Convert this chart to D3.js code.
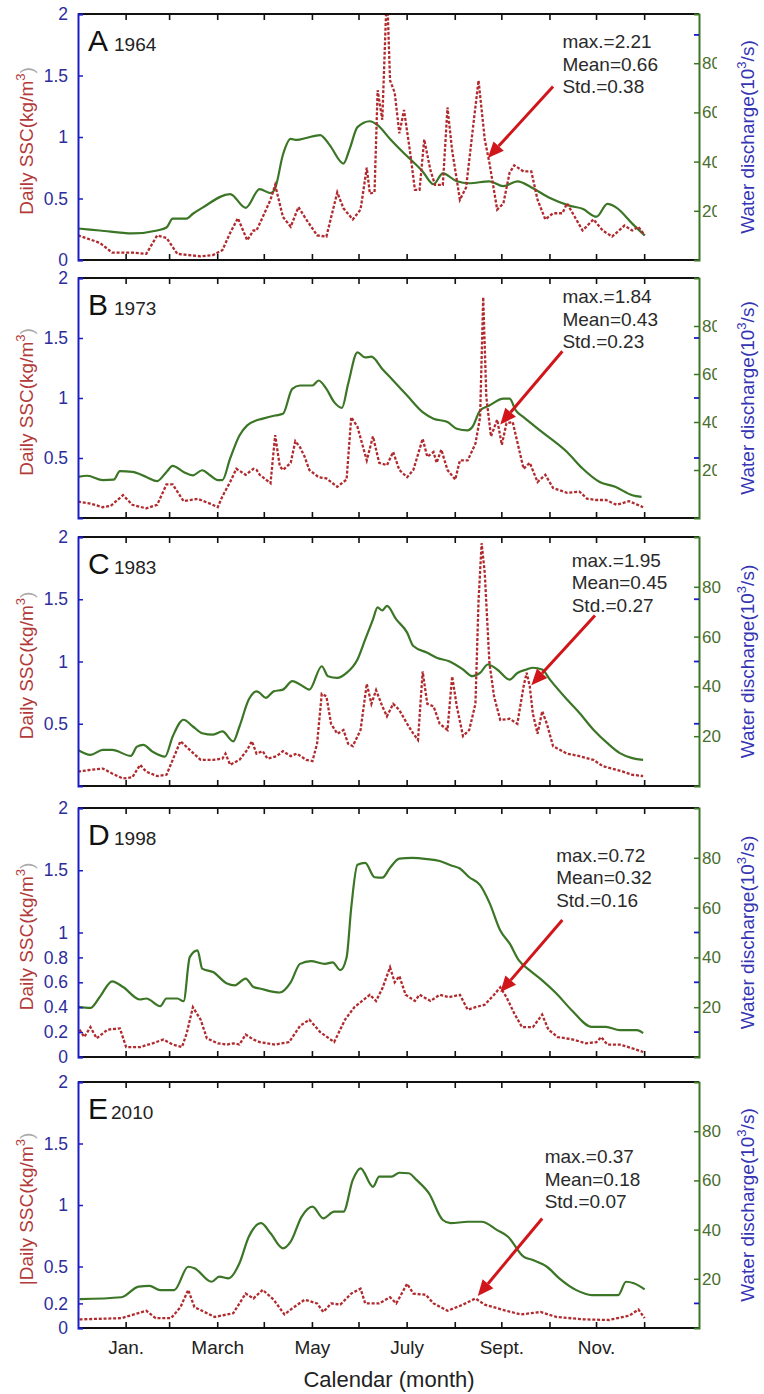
<!DOCTYPE html>
<html><head><meta charset="utf-8">
<script src="https://cdn.jsdelivr.net/npm/d3@7"></script>
<style>body{margin:0;background:#fff;} svg{display:block;font-family:"Liberation Sans",Arial,sans-serif;}</style>
</head><body><svg id="c" width="764" height="1394"></svg>
<script>
// ---------------- data ----------------
const letters = ["A","B","C","D","E"];
const years = ["1964","1973","1983","1998","2010"];
const monthTicks = [31,59,90,120,151,181,212,243,273,304,334,365];
const monthLabelDays = [31,90,151,212,273,334];
const monthLabels = ["Jan.","March","May","July","Sept.","Nov."];
const leftTicks = [[0,0.5,1,1.5,2],[0.5,1,1.5,2],[0.5,1,1.5,2],[0,0.2,0.4,0.6,0.8,1,1.5,2],[0,0.2,0.5,1,1.5,2]];
const rightTicks = [20,40,60,80];
const mirrorTicks = [[1.83],[0.5,1,1.5],[0.5,1,1.5],[0.2,0.6,1],[0.2]];
const statMax = ["2.21","1.84","1.95","0.72","0.37"];
const statMean = ["0.66","0.43","0.45","0.32","0.18"];
const statStd = ["0.38","0.23","0.27","0.16","0.07"];
// arrow [startDay, startSSC, endDay, endSSC], text anchor [day, SSC]
const arrows = [[306,1.41,264,0.83],[312,1.39,272,0.78],[333,1.37,292,0.81],[312,1.10,272,0.52],[299,0.89,257.5,0.26]];
const textPos = [[312,1.72],[312,1.79],[318,1.76],[308,1.57],[300.6,1.34]];

const qA = [[0,12.8],[14,12],[35,10.8],[51,12],[57,13.2],[61,16.8],[70,16.8],[74,18.8],[80,21.2],[98,26.8],[108,21.2],[117,28.8],[124,27.2],[127,29.2],[132,42.8],[137,49.2],[141,48.8],[147,49.6],[156,50.8],[162,46.8],[171,39.2],[175,45.2],[180,54],[188,56.4],[193,54.8],[201,49.2],[209,44],[222,36],[229,30.8],[235,35.2],[244,32],[252,31.2],[265,32],[274,30],[283,32],[293,29.2],[304,25.2],[317,22],[325,20.8],[334,17.6],[341,22.8],[347,21.2],[357,14.8],[365,10]];
const sscA = [[0,0.2],[14,0.14],[22,0.06],[35,0.06],[44,0.05],[51,0.2],[57,0.18],[64,0.05],[79,0.03],[87,0.04],[93,0.08],[98,0.22],[103,0.34],[109,0.16],[113,0.24],[115,0.24],[119,0.35],[124,0.49],[127,0.61],[132,0.35],[137,0.27],[142,0.43],[147,0.33],[154,0.2],[160,0.19],[167,0.55],[171,0.42],[177,0.33],[182,0.41],[186,0.75],[188,0.54],[191,0.55],[193,1.38],[196,1.14],[199,2.21],[201,1.46],[204,1.36],[207,1.03],[210,1.22],[214,0.87],[217,0.57],[220,0.57],[223,0.98],[227,0.73],[230,0.61],[235,0.61],[238,1.24],[241,0.89],[246,0.49],[250,0.59],[254,1.03],[258,1.46],[262,0.98],[265,0.79],[270,0.41],[274,0.46],[278,0.71],[281,0.77],[287,0.72],[292,0.72],[296,0.49],[301,0.33],[306,0.38],[312,0.38],[315,0.46],[320,0.35],[325,0.24],[332,0.33],[338,0.24],[344,0.19],[352,0.28],[357,0.24],[361,0.27],[365,0.2]];

const qB = [[0,17.1],[6,17.6],[16,15.8],[23,16],[27,19.5],[35,19.2],[44,17.1],[51,15.4],[57,19.2],[61,21.7],[68,19.2],[74,17.8],[80,19.9],[85,17.8],[90,15.8],[93,15.8],[98,24.8],[104,34.4],[109,38.6],[115,40.7],[119,41.4],[127,42.7],[132,43.4],[138,53.8],[143,55.2],[151,55.2],[155,57.3],[160,53.8],[165,48.3],[170,45.9],[174,55.9],[180,69],[185,66.9],[189,67.2],[196,62.1],[203,57.3],[212,51],[222,44.1],[229,41.4],[238,40],[244,37.2],[251,36.5],[254,37.9],[259,44.8],[265,46.9],[274,49.7],[278,49.7],[282,44.8],[287,42],[299,35.8],[315,27.5],[325,20.6],[336,15],[346,13],[357,9.5],[363,8.8]];
const sscB = [[0,0.136],[8,0.12],[16,0.09],[21,0.1],[29,0.19],[35,0.11],[44,0.08],[51,0.11],[57,0.28],[61,0.28],[68,0.14],[77,0.16],[85,0.12],[90,0.09],[93,0.18],[98,0.30],[102,0.41],[108,0.36],[113,0.41],[115,0.40],[117,0.36],[119,0.34],[124,0.29],[127,0.69],[130,0.43],[132,0.40],[137,0.46],[140,0.64],[143,0.59],[146,0.51],[149,0.40],[155,0.34],[160,0.33],[167,0.26],[173,0.32],[176,0.84],[180,0.76],[186,0.48],[190,0.68],[194,0.46],[199,0.44],[203,0.55],[207,0.40],[212,0.34],[216,0.40],[222,0.66],[225,0.51],[229,0.55],[231,0.46],[234,0.57],[238,0.40],[243,0.32],[246,0.48],[251,0.48],[256,0.62],[259,0.84],[261,1.84],[263,1.01],[266,0.68],[270,0.82],[273,0.61],[276,0.79],[280,0.80],[287,0.41],[291,0.46],[296,0.30],[301,0.36],[306,0.25],[315,0.21],[323,0.22],[328,0.16],[334,0.15],[340,0.15],[347,0.11],[355,0.14],[364,0.09]];

const qC = [[0,14.5],[8,12.5],[16,14.5],[22,14.5],[34,12.1],[38,15.8],[42,16.5],[48,13.8],[56,11.8],[61,19.9],[68,26.6],[74,23.9],[80,21.2],[87,20.6],[93,21.9],[100,17.9],[104,23.9],[110,34.7],[115,38],[117,37.4],[121,35.4],[126,38],[132,38.7],[138,42.1],[143,40.8],[149,38.7],[157,48.1],[161,44.1],[167,43.4],[173,45.4],[180,50.8],[185,58.9],[190,66.9],[193,71.7],[196,70.5],[199,72.3],[205,66.9],[212,61.6],[216,56.2],[225,53.5],[231,51.5],[239,50.1],[248,46.8],[254,44.1],[259,45.4],[264,48.8],[270,46.8],[278,42.7],[283,45.4],[289,46.8],[293,47.5],[299,46.8],[304,42.7],[315,34.7],[323,29.3],[332,22.6],[341,17.2],[349,13.2],[357,11.2],[364,10.5]];
const sscC = [[0,0.115],[8,0.13],[16,0.14],[22,0.10],[29,0.06],[35,0.07],[40,0.17],[44,0.115],[51,0.08],[57,0.09],[66,0.36],[72,0.29],[79,0.21],[87,0.21],[93,0.22],[95,0.26],[98,0.17],[104,0.21],[109,0.29],[112,0.36],[115,0.26],[119,0.28],[122,0.22],[128,0.24],[132,0.28],[137,0.24],[141,0.26],[147,0.21],[151,0.2],[154,0.34],[157,0.74],[160,0.72],[163,0.5],[167,0.42],[171,0.45],[174,0.34],[177,0.32],[182,0.45],[186,0.82],[189,0.66],[192,0.77],[196,0.64],[199,0.56],[203,0.66],[207,0.61],[212,0.5],[216,0.42],[219,0.37],[222,0.92],[225,0.66],[229,0.64],[233,0.5],[238,0.45],[241,0.88],[244,0.64],[248,0.4],[252,0.45],[256,0.66],[258,1.49],[260,1.95],[262,1.71],[265,0.99],[268,0.72],[272,0.53],[278,0.54],[283,0.5],[287,0.8],[289,0.91],[291,0.8],[293,0.58],[296,0.42],[299,0.6],[302,0.5],[306,0.32],[315,0.26],[323,0.24],[332,0.21],[338,0.16],[344,0.14],[351,0.115],[357,0.09],[364,0.08]];

const qD = [[0,20.1],[8,19.7],[14,24.1],[22,30.4],[29,28.1],[40,23.1],[44,23.5],[53,20.4],[57,23.5],[64,23.5],[68,22.4],[72,40.1],[77,42.8],[80,35.5],[87,34.1],[96,29.5],[101,28.8],[108,31.5],[113,28.1],[117,27.5],[130,25.9],[137,30],[143,37.4],[150,38.5],[159,37.4],[164,38],[169,34.9],[173,40],[176,60],[180,77.2],[185,78],[191,72.2],[196,72],[201,76],[207,79.7],[215,80],[225,79.5],[233,78.7],[240,77],[246,75.7],[252,72.2],[259,69],[265,62],[272,50.8],[278,45.6],[284,38.8],[291,34.8],[299,30.8],[308,25.6],[318,18.8],[331,12.1],[340,12.1],[349,10.8],[360,10.8],[364,9.6]];
const sscD = [[1,0.22],[4,0.16],[8,0.24],[12,0.15],[19,0.22],[27,0.23],[31,0.08],[40,0.08],[48,0.11],[55,0.14],[61,0.1],[67,0.08],[70,0.19],[74,0.40],[79,0.3],[83,0.15],[90,0.11],[96,0.1],[100,0.11],[104,0.1],[108,0.18],[113,0.14],[117,0.12],[127,0.1],[136,0.12],[143,0.25],[149,0.3],[156,0.2],[165,0.12],[172,0.3],[178,0.4],[183,0.45],[188,0.5],[192,0.45],[196,0.55],[201,0.72],[204,0.6],[207,0.65],[211,0.5],[217,0.45],[220,0.5],[227,0.45],[233,0.5],[239,0.48],[246,0.5],[251,0.38],[256,0.4],[262,0.42],[268,0.5],[272,0.56],[276,0.48],[281,0.35],[286,0.24],[293,0.24],[299,0.34],[303,0.22],[309,0.16],[319,0.14],[327,0.11],[334,0.12],[337,0.16],[341,0.1],[349,0.1],[357,0.07],[364,0.04]];

const qE = [[1,11.7],[28,12.5],[39,16.8],[46,17.1],[53,15.4],[62,15.4],[71,24.9],[75,24.3],[86,18.8],[91,20.9],[97,20.2],[104,26.3],[110,37.1],[118,42.6],[124,38.5],[132,32.4],[137,35.1],[144,45.2],[151,49.3],[158,44.6],[165,47.3],[171,47.3],[177,60.2],[182,64.9],[190,57.4],[194,61.5],[202,61.5],[207,63.1],[213,62.9],[218,60.2],[226,54.8],[235,43.9],[240,42.6],[251,43.2],[260,43.2],[270,39.8],[277,37.1],[287,29],[293,27.6],[302,24.9],[310,20.2],[321,15.4],[331,13.4],[348,13.4],[353,18.8],[358,18.2],[365,15.7]];
const sscE = [[1,0.07],[28,0.08],[44,0.14],[50,0.08],[60,0.08],[66,0.17],[71,0.31],[75,0.17],[88,0.09],[100,0.12],[108,0.28],[113,0.24],[119,0.31],[126,0.23],[133,0.11],[138,0.16],[146,0.23],[154,0.2],[158,0.13],[163,0.2],[169,0.19],[176,0.28],[182,0.32],[185,0.2],[194,0.2],[201,0.25],[205,0.2],[212,0.36],[216,0.28],[224,0.27],[229,0.2],[238,0.14],[248,0.19],[256,0.24],[262,0.19],[273,0.15],[285,0.11],[298,0.13],[308,0.09],[326,0.07],[342,0.065],[355,0.1],[361,0.15],[365,0.08]];

const qSeries = [qA,qB,qC,qD,qE];
const sscSeries = [sscA,sscB,sscC,sscD,sscE];

// ---------------- layout ----------------
const L = 78, R = 699;
const tops = [14,278,537,808,1082];
const bots = [260,518,786,1057,1328];
const cBlueAxis = "#1c1cc8", cBlueText = "#2d2d9c", cGreen = "#3b7526", cGreenText = "#4a6e30",
      cRed = "#b02a2e", cArrow = "#d0161b", cTitleRed = "#b23a3a", cRightTitle = "#3434b4";

const svg = d3.select("#c");
const x = d3.scaleLinear().domain([0,400]).range([L,R]);
const defs = svg.append("defs");

for (let i = 0; i < 5; i++) {
  const top = tops[i], bot = bots[i];
  const yL = d3.scaleLinear().domain([0,2]).range([bot,top]);
  const yR = d3.scaleLinear().domain([0,100]).range([bot,top]);
  const g = svg.append("g");
  defs.append("clipPath").attr("id","clip"+i).append("rect")
    .attr("x",L).attr("y",top).attr("width",R-L).attr("height",bot-top);
  // right-label clip, in the right axis group's local space
  defs.append("clipPath").attr("id","rclip"+i).append("rect")
    .attr("x",-10).attr("y",top-12).attr("width", i<2 ? 28 : 48).attr("height",bot-top+24);

  // series
  const plot = g.append("g").attr("clip-path","url(#clip"+i+")");
  plot.append("path").datum(qSeries[i])
    .attr("d", d3.line().x(d=>x(d[0])).y(d=>yR(d[1])).curve(d3.curveMonotoneX))
    .attr("fill","none").attr("stroke",cGreen).attr("stroke-width",2.2);
  plot.append("path").datum(sscSeries[i])
    .attr("d", d3.line().x(d=>x(d[0])).y(d=>yL(d[1])))
    .attr("fill","none").attr("stroke",cRed).attr("stroke-width",2.3)
    .attr("stroke-dasharray","3,1.8");

  // frame: top & bottom (black)
  g.append("line").attr("x1",L).attr("x2",R).attr("y1",top).attr("y2",top).attr("stroke","#111").attr("stroke-width",2);
  g.append("line").attr("x1",L).attr("x2",R).attr("y1",bot).attr("y2",bot).attr("stroke","#111").attr("stroke-width",2);
  monthTicks.forEach(t => {
    g.append("line").attr("x1",x(t)).attr("x2",x(t)).attr("y1",top).attr("y2",top+6).attr("stroke","#111").attr("stroke-width",1.6);
    g.append("line").attr("x1",x(t)).attr("x2",x(t)).attr("y1",bot).attr("y2",bot-6).attr("stroke","#111").attr("stroke-width",1.6);
  });

  // left axis
  const la = g.append("g").attr("transform",`translate(${L},0)`)
    .call(d3.axisLeft(yL).tickValues(leftTicks[i]).tickSize(-5).tickPadding(10).tickFormat(d=>String(d)));
  la.select(".domain").attr("stroke",cBlueAxis).attr("stroke-width",2);
  la.selectAll(".tick line").attr("stroke",cBlueAxis).attr("stroke-width",1.5);
  la.selectAll(".tick text").attr("fill",cBlueText).attr("font-size",17.5).attr("font-family","Liberation Sans, Arial, sans-serif");

  // right axis
  const ra = g.append("g").attr("transform",`translate(${R},0)`)
    .call(d3.axisRight(yR).tickValues(rightTicks).tickSize(-5).tickPadding(3).tickFormat(d=>String(d)));
  ra.select(".domain").attr("stroke",cGreen).attr("stroke-width",2);
  ra.selectAll(".tick line").attr("stroke",cGreen).attr("stroke-width",1.5);
  ra.selectAll(".tick text").attr("fill",cGreenText).attr("font-size",17)
    .attr("font-family","Liberation Sans, Arial, sans-serif");
  ra.attr("clip-path","url(#rclip"+i+")");
  mirrorTicks[i].forEach(v => {
    g.append("line").attr("x1",R-5).attr("x2",R).attr("y1",yL(v)).attr("y2",yL(v)).attr("stroke",cBlueAxis).attr("stroke-width",1.8);
  });

  // axis titles
  const lt = g.append("text").attr("transform",`translate(33,${(top+bot)/2+4}) rotate(-90)`)
    .attr("text-anchor","middle").attr("font-size",19).attr("fill",cTitleRed);
  lt.append("tspan").text((i===4?"|":"") + "Daily SSC(kg/m");
  lt.append("tspan").attr("font-size",13).attr("dy",-8).text("3");
  lt.append("tspan").attr("dy",8).attr("fill","#aaa").text(")");

  const rt = g.append("text").attr("transform",`translate(754,${(top+bot)/2}) rotate(-90)`)
    .attr("text-anchor","middle").attr("font-size",19).attr("fill",cRightTitle);
  rt.append("tspan").text("Water discharge(10");
  rt.append("tspan").attr("font-size",13).attr("dy",-8).text("3");
  rt.append("tspan").attr("dy",8).text("/s)");

  // panel label
  g.append("text").attr("x",88).attr("y",top+37).attr("font-size",30).attr("fill","#111").text(letters[i]);
  g.append("text").attr("x",i===4?111:114).attr("y",top+37).attr("font-size",19).attr("fill","#222").text(years[i]);

  // stats text
  const tp = textPos[i];
  const lines = ["max.="+statMax[i], "Mean="+statMean[i], "Std.="+statStd[i]];
  lines.forEach((s,k) => {
    g.append("text").attr("x",x(tp[0])).attr("y",yL(tp[1])+k*22.5)
      .attr("font-size",19).attr("fill","#2a2a2a").text(s);
  });

  // arrow
  const a = arrows[i];
  const x1 = x(a[0]), y1 = yL(a[1]), x2 = x(a[2]), y2 = yL(a[3]);
  const ang = Math.atan2(y2-y1, x2-x1);
  const hl = 16, hw = 7;
  const bx = x2 - hl*Math.cos(ang), by = y2 - hl*Math.sin(ang);
  g.append("line").attr("x1",x1).attr("y1",y1).attr("x2",bx).attr("y2",by)
    .attr("stroke",cArrow).attr("stroke-width",3);
  g.append("path").attr("d",`M${x2},${y2}L${bx+hw*Math.sin(ang)},${by-hw*Math.cos(ang)}L${bx-hw*Math.sin(ang)},${by+hw*Math.cos(ang)}Z`)
    .attr("fill",cArrow);
}

// month labels and x title
svg.append("g").selectAll("text").data(monthLabelDays).join("text")
  .attr("x",d=>x(d)).attr("y",1354).attr("text-anchor","middle")
  .attr("font-size",19).attr("fill","#222").text((d,k)=>monthLabels[k]);
svg.append("text").attr("x",389).attr("y",1387).attr("text-anchor","middle")
  .attr("font-size",22).attr("fill","#222").text("Calendar (month)");
</script></body></html>
